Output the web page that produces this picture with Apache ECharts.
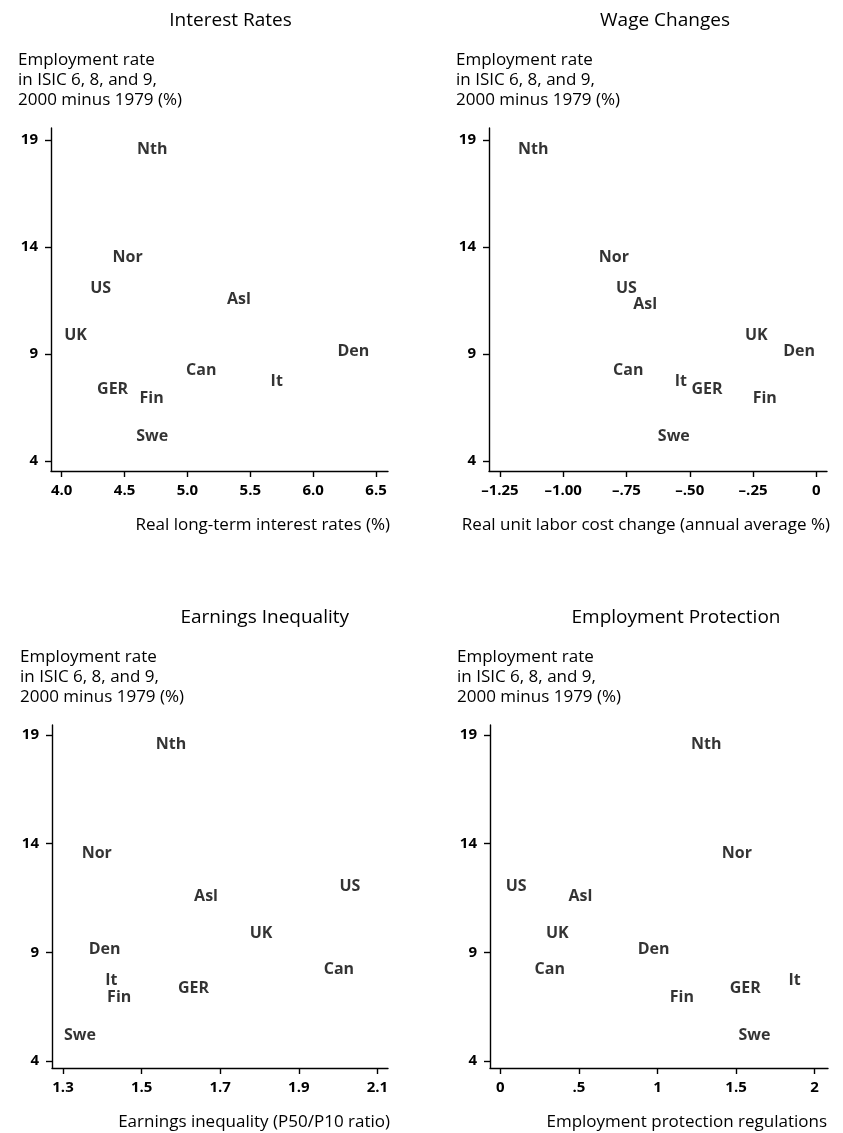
<!DOCTYPE html>
<html>
<head>
<meta charset="utf-8">
<script src="https://cdn.jsdelivr.net/npm/echarts@6/dist/echarts.min.js"></script>
<style>
html,body{margin:0;padding:0;background:#fff;}
#chart{width:843px;height:1133px;}
</style>
</head>
<body>
<div id="chart"></div>
<script>
// ---- data ----
const countries = ['Nth','Nor','US','Asl','UK','Den','Can','It','GER','Fin','Swe'];
const employmentChange = [18.57,13.53,12.05,11.55,9.85,9.14,8.23,7.73,7.34,6.92,5.16];
const interestRates = [4.72,4.525,4.31,5.41,4.11,6.32,5.11,5.71,4.405,4.715,4.72];
const wageChanges = [-1.118,-0.80,-0.75,-0.676,-0.237,-0.068,-0.743,-0.535,-0.432,-0.204,-0.563];
const earningsInequality = [1.575,1.386,2.03,1.664,1.804,1.406,2.002,1.423,1.632,1.443,1.343];
const employmentProtection = [1.31,1.505,0.10,0.509,0.362,0.975,0.314,1.873,1.558,1.155,1.617];

const yTicks = [4,9,14,19];
const yTickLabels = ['4','9','14','19'];
const xTicksInterest = [4.0,4.5,5.0,5.5,6.0,6.5];
const xLabelsInterest = ['4.0','4.5','5.0','5.5','6.0','6.5'];
const xTicksWage = [-1.25,-1.0,-0.75,-0.5,-0.25,0];
const xLabelsWage = ['\u20131.25','\u20131.00','\u2013.75','\u2013.50','\u2013.25','0'];
const xTicksEarn = [1.3,1.5,1.7,1.9,2.1];
const xLabelsEarn = ['1.3','1.5','1.7','1.9','2.1'];
const xTicksProt = [0,0.5,1,1.5,2];
const xLabelsProt = ['0','.5','1','1.5','2'];

const panelTitles = ['Interest Rates','Wage Changes','Earnings Inequality','Employment Protection'];
const yTitle = 'Employment rate\nin ISIC 6, 8, and 9,\n2000 minus 1979 (%)';
const xTitles = ['Real long-term interest rates (%)','Real unit labor cost change (annual average %)','Earnings inequality (P50/P10 ratio)','Employment protection regulations'];

// ---- layout ----
const FONT = '"Open Sans", "DejaVu Sans", sans-serif';
const panels = [
  {xs: interestRates, ticks: xTicksInterest, labels: xLabelsInterest, min: 3.915, max: 6.595,
   grid: {left: 51, top: 128, width: 337, height: 343}, ymin: 3.53, ymax: 19.57,
   title: [230.5, 21], ytitle: [18, 50], xname: [390, 525]},
  {xs: wageChanges, ticks: xTicksWage, labels: xLabelsWage, min: -1.293, max: 0.042,
   grid: {left: 489, top: 128, width: 338, height: 343}, ymin: 3.53, ymax: 19.57,
   title: [665, 21], ytitle: [456, 50], xname: [830, 525], offsets: {Asl: [0, 5]}},
  {xs: earningsInequality, ticks: xTicksEarn, labels: xLabelsEarn, min: 1.272, max: 2.127,
   grid: {left: 52, top: 725, width: 336, height: 343}, ymin: 3.68, ymax: 19.46,
   title: [264.7, 617.5], ytitle: [20, 647], xname: [390, 1122]},
  {xs: employmentProtection, ticks: xTicksProt, labels: xLabelsProt, min: -0.066, max: 2.085,
   grid: {left: 490, top: 725, width: 338, height: 343}, ymin: 3.68, ymax: 19.46,
   title: [676, 617.5], ytitle: [457, 647], xname: [827, 1122]}
];

const axisLineStyle = {color: '#000', width: 1.4};
const grids = [], xAxes = [], yAxes = [], series = [], graphics = [];

panels.forEach((p, i) => {
  grids.push(p.grid);
  xAxes.push({
    type: 'value', gridIndex: i, min: p.min, max: p.max,
    axisLine: {show: true, onZero: false, lineStyle: axisLineStyle},
    axisTick: {show: true, length: 6, customValues: p.ticks, lineStyle: axisLineStyle},
    axisLabel: {show: true, customValues: p.ticks, margin: 12, color: '#000',
      fontFamily: FONT, fontSize: 15, fontWeight: 'bold',
      formatter: (v) => { const k = p.ticks.findIndex(t => Math.abs(t - v) < 1e-9); return k >= 0 ? p.labels[k] : ''; }},
    splitLine: {show: false}
  });
  yAxes.push({
    type: 'value', gridIndex: i, min: p.ymin, max: p.ymax,
    axisLine: {show: true, onZero: false, lineStyle: axisLineStyle},
    axisTick: {show: true, length: 6, customValues: yTicks, lineStyle: axisLineStyle},
    axisLabel: {show: true, customValues: yTicks, margin: 13, color: '#000',
      fontFamily: FONT, fontSize: 15, fontWeight: 'bold',
      formatter: (v) => { const k = yTicks.findIndex(t => Math.abs(t - v) < 1e-9); return k >= 0 ? yTickLabels[k] : ''; }},
    splitLine: {show: false}
  });
  const offs = p.offsets || {};
  series.push({
    type: 'scatter', xAxisIndex: i, yAxisIndex: i, silent: true,
    symbolSize: 0.1, itemStyle: {color: 'rgba(0,0,0,0)'},
    label: {show: true, position: 'inside', formatter: '{b}', color: '#000',
      fontFamily: FONT, fontSize: 16, fontWeight: 'bold'},
    data: countries.map((c, k) => {
      const d = {name: c, value: [p.xs[k], employmentChange[k]]};
      if (offs[c]) d.label = {offset: offs[c]};
      return d;
    })
  });
  graphics.push({type: 'text', x: p.title[0], y: p.title[1], silent: true,
    style: {text: panelTitles[i], align: 'center', verticalAlign: 'middle',
      font: '500 19px ' + FONT, fill: '#000'}});
  graphics.push({type: 'text', x: p.ytitle[0], y: p.ytitle[1], silent: true,
    style: {text: yTitle, align: 'left', verticalAlign: 'top', lineHeight: 20,
      font: '500 17px ' + FONT, fill: '#000'}});
  graphics.push({type: 'text', x: p.xname[0], y: p.xname[1], silent: true,
    style: {text: xTitles[i], align: 'right', verticalAlign: 'middle',
      font: '500 17px ' + FONT, fill: '#000'}});
});

const chart = echarts.init(document.getElementById('chart'), null, {renderer: 'canvas'});
chart.setOption({
  backgroundColor: '#fff',
  animation: false,
  grid: grids, xAxis: xAxes, yAxis: yAxes, series: series, graphic: graphics
});
</script>
</body>
</html>
